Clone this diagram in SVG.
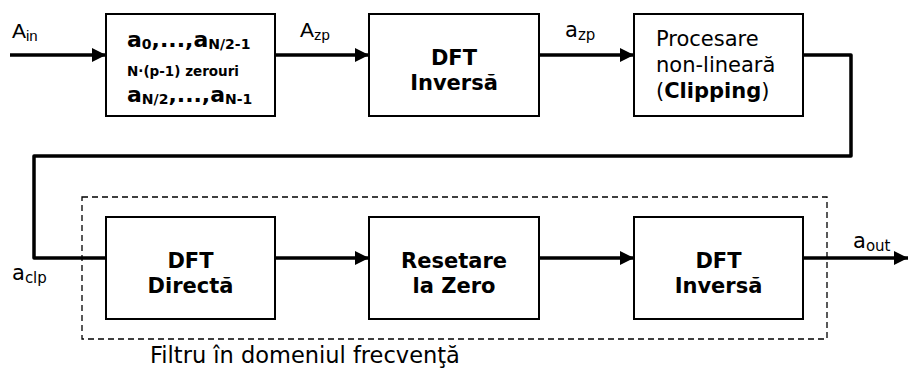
<svg xmlns="http://www.w3.org/2000/svg" width="910" height="372" viewBox="0 0 910 372">
<style>
.box{fill:#fff;stroke:#000;stroke-width:2}
.wire{fill:none;stroke:#000;stroke-width:3.5;stroke-linejoin:round}
.b{font-family:"DejaVu Sans",Verdana,sans-serif;font-weight:bold;font-size:21px;fill:#000}
.t{font-family:"DejaVu Sans",Verdana,sans-serif;font-size:21px;fill:#000}
.ar{font-family:"Liberation Sans",Arial,sans-serif;font-size:21px;fill:#000}
.c{text-anchor:middle}
.sub{font-size:15px}
.bs{font-size:14px}
</style>
<defs>
<marker id="ah" markerUnits="userSpaceOnUse" markerWidth="16" markerHeight="14" refX="14" refY="7" orient="auto">
<path d="M0,0 L14,7 L0,14 z" fill="#000"/>
</marker>
</defs>
<rect x="82" y="197" width="745" height="142" fill="none" stroke="#000" stroke-width="1.3" stroke-dasharray="6,4"/>
<g id="connectors">
<path class="wire" d="M10,55 H106" marker-end="url(#ah)"/>
<path class="wire" d="M275,55 H369" marker-end="url(#ah)"/>
<path class="wire" d="M539,55 H634" marker-end="url(#ah)"/>
<path class="wire" d="M803,55 H851 V156 H34 V258 H106"/>
<path class="wire" d="M275,258 H369" marker-end="url(#ah)"/>
<path class="wire" d="M539,258 H634" marker-end="url(#ah)"/>
<path class="wire" d="M803,258 H908" marker-end="url(#ah)"/>
</g>
<g id="labels">
<text class="ar" x="12" y="38">A<tspan class="sub" dy="3">in</tspan></text>
<text class="ar" x="300" y="37">A<tspan class="sub" dy="3">zp</tspan></text>
<text class="t" x="565" y="37">a<tspan class="sub" dy="3">zp</tspan></text>
<text class="t" x="12" y="280">a<tspan class="sub" dy="3">clp</tspan></text>
<text class="t" x="853" y="248">a<tspan class="sub" dy="3">out</tspan></text>
<text class="t" x="150" y="363" style="font-size:22.5px">Filtru în domeniul frecvenţă</text>
</g>
<g id="zeropad">
<rect class="box" x="106" y="14" width="169" height="102"/>
<text class="b" x="127" y="47" style="font-size:22px">a<tspan class="bs" dy="2">0</tspan><tspan dy="-2">,...,a</tspan><tspan class="bs" dy="2">N/2-1</tspan></text>
<text class="b" x="127" y="76" style="font-size:13.5px">N·(p-1) zerouri</text>
<text class="b" x="127" y="102" style="font-size:22px">a<tspan class="bs" dy="2">N/2</tspan><tspan dy="-2">,...,a</tspan><tspan class="bs" dy="2">N-1</tspan></text>
</g>
<g id="idft1">
<rect class="box" x="369" y="14" width="170" height="102"/>
<text class="b c" x="454" y="65">DFT</text>
<text class="b c" x="454" y="90">Inversă</text>
</g>
<g id="clipping">
<rect class="box" x="634" y="14" width="169" height="102"/>
<text class="t" x="656" y="46">Procesare</text>
<text class="t" x="656" y="72">non-lineară</text>
<text class="t" x="656" y="98">(<tspan font-weight="bold">Clipping</tspan>)</text>
</g>
<g id="dft">
<rect class="box" x="106" y="217" width="169" height="102"/>
<text class="b c" x="190.5" y="268">DFT</text>
<text class="b c" x="190.5" y="293">Directă</text>
</g>
<g id="reset">
<rect class="box" x="369" y="217" width="170" height="102"/>
<text class="b c" x="454" y="268">Resetare</text>
<text class="b c" x="454" y="293">la Zero</text>
</g>
<g id="idft2">
<rect class="box" x="634" y="217" width="169" height="102"/>
<text class="b c" x="718.5" y="268">DFT</text>
<text class="b c" x="718.5" y="293">Inversă</text>
</g>
</svg>
